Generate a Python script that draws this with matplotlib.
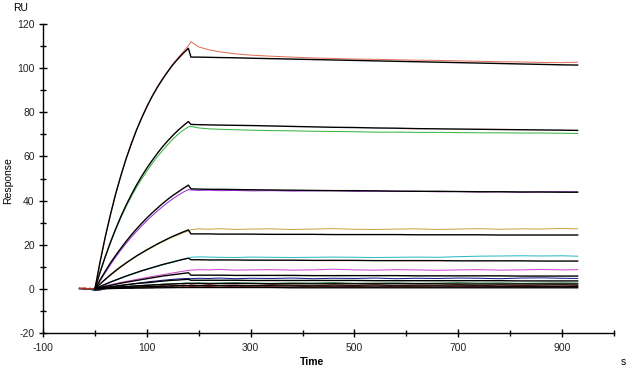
import matplotlib
matplotlib.use("Agg")
import matplotlib.pyplot as plt
from matplotlib.ticker import MultipleLocator, FixedLocator

plt.rcParams['font.family'] = ['Liberation Sans', 'DejaVu Sans']
plt.rcParams['axes.unicode_minus'] = False

# ---- time grids (s) ----
t_base = [-30, -20, -10]
t_assoc = [0, 10, 20, 30, 40, 50, 60, 70, 80, 90, 100, 110, 120, 130, 140, 150, 160, 170, 180]
t_diss = [185, 200, 220, 240, 270, 300, 340, 380, 420, 460, 500, 540, 580, 620, 660, 700,
          740, 780, 820, 860, 900, 930]

# ---- measured sensorgrams (RU): baseline + association + dissociation ----
meas1 = [0.3, 0.1, -0.2] + [0.2, 12.0, 23.4, 33.6, 43.0, 51.4, 59.1, 65.9, 72.1, 77.6, 82.7, 87.3, 91.5, 95.2, 98.6, 101.8, 104.7, 107.4, 110.2] + [112.0, 109.6, 108.3, 107.4, 106.5, 105.9, 105.4, 105.0, 104.6, 104.4, 104.1, 104.0, 103.8, 103.6, 103.5, 103.3, 103.1, 102.9, 102.8, 102.6, 102.5, 102.7]
meas2 = [0.1, -0.1, 0.2] + [0.0, 7.4, 14.4, 20.9, 26.8, 32.3, 37.3, 41.8, 45.9, 49.8, 53.3, 56.7, 59.8, 62.6, 65.3, 67.8, 70.0, 71.9, 73.4] + [73.6, 72.9, 72.5, 72.3, 72.1, 71.9, 71.7, 71.6, 71.4, 71.3, 71.2, 71.0, 71.0, 70.9, 70.9, 70.8, 70.7, 70.7, 70.6, 70.6, 70.5, 70.4]
meas3 = [0.2, 0.0, -0.1] + [-0.3, 3.6, 7.4, 11.0, 14.4, 17.6, 20.6, 23.4, 26.0, 28.5, 30.9, 33.1, 35.2, 37.2, 39.1, 40.8, 42.4, 43.8, 45.0] + [44.8, 44.6, 44.7, 44.5, 44.6, 44.4, 44.5, 44.3, 44.4, 44.5, 44.2, 44.3, 44.1, 44.2, 44.0, 44.1, 43.9, 44.0, 43.8, 43.9, 44.0, 43.9]
meas4 = [0.1, 0.2, -0.1] + [0.1, 2.4, 4.6, 6.6, 8.5, 10.3, 11.9, 13.4, 14.8, 16.2, 17.5, 18.8, 20.1, 21.3, 22.4, 23.5, 24.5, 25.4, 26.2] + [26.8, 27.2, 27.0, 27.3, 26.9, 27.1, 27.2, 26.9, 27.1, 27.3, 27.0, 26.9, 27.1, 27.2, 26.9, 27.1, 27.3, 27.0, 27.2, 27.1, 27.4, 27.2]
meas5 = [0.0, 0.2, 0.1] + [-0.4, 1.0, 2.0, 3.0, 3.9, 4.8, 5.7, 6.5, 7.3, 8.1, 8.8, 9.5, 10.2, 10.9, 11.5, 12.1, 12.7, 13.3, 13.9] + [14.3, 14.5, 14.4, 14.3, 14.2, 14.4, 14.3, 14.2, 14.3, 14.4, 14.3, 14.2, 14.3, 14.4, 14.3, 14.6, 14.8, 14.9, 15.0, 14.9, 15.0, 14.8]
meas6 = [0.1, -0.1, 0.0] + [-0.5, 0.8, 1.4, 1.9, 2.4, 2.9, 3.4, 3.8, 4.3, 4.7, 5.2, 5.6, 6.0, 6.4, 6.8, 7.2, 7.6, 8.0, 8.4] + [8.5, 8.7, 8.6, 8.8, 8.5, 8.6, 8.7, 8.5, 8.6, 8.9, 8.6, 8.5, 8.7, 8.6, 8.4, 8.6, 8.7, 8.5, 8.6, 8.8, 8.6, 8.7]
meas7 = [0.0, 0.1, -0.2] + [-0.8, -0.6, 0.2, 0.6, 1.1, 1.5, 1.8, 2.2, 2.5, 2.8, 3.1, 3.4, 3.6, 3.9, 4.1, 4.3, 4.5, 4.6, 4.7] + [4.6, 4.8, 4.7, 4.9, 4.6, 4.8, 4.7, 4.9, 4.6, 4.8, 4.7, 4.9, 4.6, 4.8, 4.7, 4.9, 4.8, 4.6, 4.9, 5.0, 4.8, 4.7]
meas8 = [0.2, 0.0, 0.1] + [-0.6, -0.3, 0.3, 0.5, 0.7, 0.9, 1.0, 1.2, 1.4, 1.5, 1.7, 1.8, 1.9, 2.1, 2.2, 2.3, 2.4, 2.5, 2.6] + [2.6, 2.7, 2.5, 2.6, 2.8, 2.6, 2.5, 2.7, 2.6, 2.8, 2.5, 2.6, 2.7, 2.5, 2.6, 2.8, 2.6, 2.7, 2.5, 2.6, 2.7, 2.6]
meas9 = [0.4, -0.2, 0.3] + [0.0, 0.3, 0.0, 0.6, 0.2, 0.8, 0.5, 1.0, 0.7, 1.1, 0.9, 1.3, 1.0, 1.5, 1.2, 1.6, 1.3, 1.7, 1.5] + [1.8, 1.4, 1.9, 1.5, 1.7, 1.3, 1.9, 1.6, 1.4, 1.8, 1.5, 1.9, 1.4, 1.7, 1.6, 1.9, 1.4, 1.8, 1.5, 1.7, 1.9, 1.6]
meas10 = [0.2, 0.5, -0.1] + [0.3, -0.2, 0.4, 0.1, 0.6, 0.2, 0.7, 0.3, 0.8, 0.4, 0.9, 0.5, 0.8, 1.0, 0.6, 1.1, 0.7, 1.0, 0.9] + [1.2, 0.8, 1.1, 0.7, 1.2, 0.9, 1.0, 0.7, 1.3, 0.9, 1.1, 0.8, 1.2, 1.0, 0.8, 1.2, 0.9, 1.1, 1.3, 0.9, 1.2, 1.0]

# ---- fitted curves (black): association + dissociation ----
fit1_a = [0, 12.4, 23.7, 33.8, 43.1, 51.3, 58.9, 65.6, 71.9, 77.4, 82.5, 87.1, 91.2, 94.9, 98.3, 101.5, 104.2, 106.7, 109.0]
fit1_d = [105.0, 105.0, 104.9, 104.8, 104.7, 104.5, 104.3, 104.1, 103.9, 103.7, 103.5, 103.3, 103.1, 102.9, 102.7, 102.5, 102.3, 102.1, 101.9, 101.7, 101.5, 101.4]
fit2_a = [0, 7.7, 14.7, 21.2, 27.2, 32.8, 37.9, 42.6, 47.0, 51.0, 54.7, 58.1, 61.3, 64.3, 67.0, 69.5, 71.8, 73.9, 75.8]
fit2_d = [74.5, 74.4, 74.3, 74.2, 74.1, 74.0, 73.8, 73.6, 73.4, 73.2, 73.1, 72.9, 72.8, 72.6, 72.5, 72.4, 72.3, 72.2, 72.1, 72.0, 71.9, 71.8]
fit3_a = [0, 4.1, 8.0, 11.8, 15.2, 18.4, 21.5, 24.4, 27.1, 29.7, 32.1, 34.4, 36.5, 38.6, 40.5, 42.3, 43.9, 45.5, 47.0]
fit3_d = [45.3, 45.2, 45.1, 45.1, 45.0, 44.9, 44.8, 44.7, 44.6, 44.5, 44.5, 44.4, 44.3, 44.2, 44.2, 44.1, 44.0, 44.0, 43.9, 43.9, 43.8, 43.8]
fit4_a = [0, 2.2, 4.3, 6.3, 8.2, 10.0, 11.7, 13.3, 14.9, 16.3, 17.7, 19.0, 20.3, 21.5, 22.7, 23.8, 24.8, 25.8, 26.7]
fit4_d = [24.9, 24.9, 24.9, 24.8, 24.8, 24.8, 24.7, 24.7, 24.7, 24.6, 24.6, 24.6, 24.6, 24.5, 24.5, 24.5, 24.5, 24.4, 24.4, 24.4, 24.4, 24.4]
fit5_a = [0, 1.1, 2.1, 3.1, 4.0, 4.9, 5.8, 6.6, 7.4, 8.2, 8.9, 9.6, 10.3, 11.0, 11.6, 12.2, 12.8, 13.4, 13.9]
fit5_d = [13.2, 13.2, 13.1, 13.1, 13.1, 13.0, 13.0, 13.0, 12.9, 12.9, 12.9, 12.8, 12.8, 12.8, 12.8, 12.7, 12.7, 12.7, 12.7, 12.6, 12.6, 12.6]
fit6_a = [0, 0.6, 1.1, 1.6, 2.1, 2.6, 3.0, 3.4, 3.8, 4.2, 4.6, 5.0, 5.4, 5.8, 6.1, 6.4, 6.7, 7.0, 7.3]
fit6_d = [6.2, 6.2, 6.2, 6.2, 6.1, 6.1, 6.1, 6.1, 6.0, 6.0, 6.0, 6.0, 6.0, 5.9, 5.9, 5.9, 5.9, 5.9, 5.8, 5.8, 5.8, 5.8]
fit7_a = [0, 0.35, 0.7, 1.0, 1.3, 1.6, 1.9, 2.1, 2.4, 2.6, 2.8, 3.0, 3.3, 3.5, 3.7, 3.9, 4.0, 4.2, 4.3]
fit7_d = [3.9, 3.9, 3.9, 3.9, 3.9, 3.8, 3.8, 3.8, 3.8, 3.8, 3.8, 3.7, 3.7, 3.7, 3.7, 3.7, 3.7, 3.7, 3.6, 3.6, 3.6, 3.6]
fit8_a = [0, 0.2, 0.4, 0.55, 0.7, 0.9, 1.05, 1.2, 1.35, 1.5, 1.6, 1.75, 1.85, 2.0, 2.1, 2.2, 2.3, 2.4, 2.5]
fit8_d = [2.4, 2.4, 2.4, 2.4, 2.4, 2.4, 2.3, 2.3, 2.3, 2.3, 2.3, 2.3, 2.3, 2.3, 2.3, 2.2, 2.2, 2.2, 2.2, 2.2, 2.2, 2.2]
fit9_a = [0, 0.1, 0.2, 0.3, 0.4, 0.5, 0.6, 0.7, 0.8, 0.85, 0.95, 1.0, 1.1, 1.2, 1.25, 1.3, 1.4, 1.45, 1.5]
fit9_d = [1.4, 1.4, 1.4, 1.4, 1.4, 1.4, 1.4, 1.3, 1.3, 1.3, 1.3, 1.3, 1.3, 1.3, 1.3, 1.3, 1.3, 1.2, 1.2, 1.2, 1.2, 1.2]
fit10_a = [0, 0.05, 0.1, 0.15, 0.2, 0.25, 0.3, 0.3, 0.35, 0.4, 0.4, 0.45, 0.5, 0.5, 0.55, 0.55, 0.6, 0.6, 0.6]
fit10_d = [0.6, 0.6, 0.6, 0.6, 0.6, 0.6, 0.6, 0.5, 0.5, 0.5, 0.5, 0.5, 0.5, 0.5, 0.5, 0.5, 0.5, 0.5, 0.5, 0.5, 0.5, 0.5]

measured = [meas1, meas2, meas3, meas4, meas5, meas6, meas7, meas8, meas9, meas10]
fits = [(fit1_a, fit1_d), (fit2_a, fit2_d), (fit3_a, fit3_d), (fit4_a, fit4_d), (fit5_a, fit5_d),
        (fit6_a, fit6_d), (fit7_a, fit7_d), (fit8_a, fit8_d), (fit9_a, fit9_d), (fit10_a, fit10_d)]
colors = ['#e2725a', '#3cb446', '#9a30d8', '#c8a84a', '#2cbcc8', '#d248d2', '#1c1c90',
          '#1e6b22', '#8e1a14', '#c83a22']

y_ticks = [-20, 0, 20, 40, 60, 80, 100, 120]
x_ticks = [-100, 100, 300, 500, 700, 900]

fig = plt.figure(figsize=(6.3, 3.71), dpi=100)
ax = fig.add_axes([0.0683, 0.1024, 0.9063, 0.8329])

t_meas = t_base + t_assoc + t_diss
t_fit = t_assoc + t_diss
for m, c in zip(measured, colors):
    ax.plot(t_meas, m, color=c, lw=0.75, zorder=2)
for (fa, fd) in fits:
    ax.plot(t_fit, fa + fd, color='black', lw=1.0, zorder=3)

ax.set_xlim(-100, 1000)
ax.set_ylim(-20, 120)
ax.spines['top'].set_visible(False)
ax.spines['right'].set_visible(False)
for s in ('left', 'bottom'):
    ax.spines[s].set_linewidth(1.0)

ax.yaxis.set_major_locator(FixedLocator(y_ticks))
ax.yaxis.set_minor_locator(MultipleLocator(10))
ax.xaxis.set_major_locator(FixedLocator(x_ticks))
ax.xaxis.set_minor_locator(MultipleLocator(100))
ax.tick_params(which='major', direction='inout', length=6, width=1.0, labelsize=7.5,
               colors='black', labelcolor='#222222', pad=3)
ax.tick_params(which='minor', direction='inout', length=4, width=1.0)
ax.tick_params(axis='x', which='major', pad=4)
ax.set_facecolor('white')

fig.text(13 / 630, 1 - 8 / 371, 'RU', fontsize=7.5, ha='left', va='center')
fig.text(8 / 630, 1 - 181 / 371, 'Response', fontsize=7.5, rotation=90, ha='center', va='center')
fig.text(300 / 630, 1 - 362 / 371, 'Time', fontsize=7.5, fontweight='bold', ha='left', va='center')
fig.text(623 / 630, 1 - 362 / 371, 's', fontsize=7.5, ha='center', va='center')

fig.savefig('out.png', dpi=100, facecolor='white')
